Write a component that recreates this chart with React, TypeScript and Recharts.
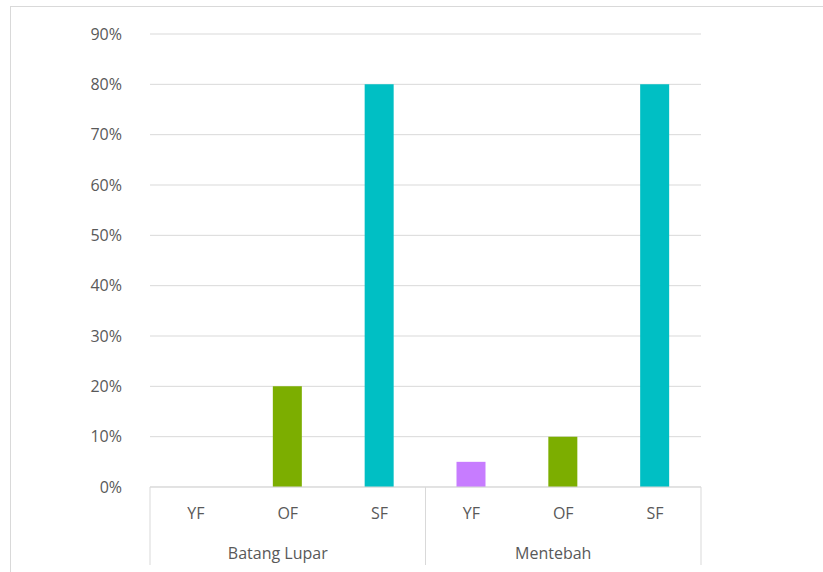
import { BarChart, Bar, XAxis, YAxis, CartesianGrid, Cell } from "recharts";

// Two sites, three forest types each
const groups = ["Batang Lupar", "Batang Lupar", "Batang Lupar", "Mentebah", "Mentebah", "Mentebah"];
const categories = ["YF", "OF", "SF", "YF", "OF", "SF"];
const shares = [0, 0.2, 0.8, 0.05, 0.1, 0.8];
const yTicks = [0, 0.1, 0.2, 0.3, 0.4, 0.5, 0.6, 0.7, 0.8, 0.9];

const COLORS: Record<string, string> = {
  YF: "#C77CFF",
  OF: "#7CAE00",
  SF: "#00BFC4",
};

const FONT = "'Open Sans', sans-serif";
const TEXT = "#595959";
const RULE = "#d9d9d9";
const W = 823;
const H = 572;
const MARGIN = { top: 34, right: 122, bottom: 7, left: 0 };
const Y_AXIS_W = 150;
const X_AXIS_H = 78;

const data = categories.map((c, i) => ({
  key: `${groups[i]}|${c}`,
  cat: c,
  group: groups[i],
  share: shares[i],
}));

function pct(v: number): string {
  return `${Math.round(v * 100)}%`;
}

function MultiLevelTick(props: any) {
  const { x, y, payload, index } = props;
  const i: number = typeof index === "number" ? index : payload?.index ?? 0;
  const half: number =
    payload?.offset || (W - MARGIN.right - Y_AXIS_W) / categories.length / 2;
  const row = data[i];
  if (!row) return null;
  const isFirstInGroup = i === 0 || data[i - 1].group !== row.group;
  const isLast = i === data.length - 1;
  // middle slot of the group gets the group label
  const members = data.filter((d) => d.group === row.group);
  const mid = data.indexOf(members[0]) + (members.length - 1) / 2;
  const showGroup = Math.abs(i - mid) < 0.01;

  return (
    <g>
      <text
        x={x}
        y={y + 26}
        textAnchor="middle"
        dominantBaseline="central"
        fill={TEXT}
        fontSize={16}
        fontFamily={FONT}
      >
        {row.cat}
      </text>
      {showGroup && (
        <text
          x={x - 10}
          y={y + 66}
          textAnchor="middle"
          dominantBaseline="central"
          fill={TEXT}
          fontSize={16}
          fontFamily={FONT}
        >
          {row.group}
        </text>
      )}
      {isFirstInGroup && (
        <line x1={x - half} x2={x - half} y1={y} y2={y + X_AXIS_H} stroke={RULE} />
      )}
      {isLast && (
        <line x1={x + half} x2={x + half} y1={y} y2={y + X_AXIS_H} stroke={RULE} />
      )}
    </g>
  );
}

export default function App() {
  return (
    <div style={{ position: "relative", width: W, height: H, overflow: "hidden", background: "#fff" }}>
      <style>{"body{margin:0;overflow:hidden;}"}</style>
      {/* chart area border */}
      <div
        style={{
          position: "absolute",
          left: 10,
          top: 6,
          width: W + 20,
          height: H + 20,
          border: `1px solid ${RULE}`,
          boxSizing: "border-box",
        }}
      />
      <div style={{ position: "absolute", left: 0, top: 0 }}>
        <BarChart width={W} height={H} data={data} margin={MARGIN} barSize={29}>
          <CartesianGrid horizontal vertical={false} stroke={RULE} strokeWidth={1} />
          <XAxis
            dataKey="key"
            interval={0}
            height={X_AXIS_H}
            tick={<MultiLevelTick />}
            tickLine={false}
            tickSize={0}
            tickMargin={0}
            axisLine={{ stroke: RULE }}
          />
          <YAxis
            domain={[0, 0.9]}
            ticks={yTicks}
            tickFormatter={pct}
            width={Y_AXIS_W}
            axisLine={false}
            tickLine={false}
            tickSize={0}
            tickMargin={28}
            tick={{ fill: TEXT, fontSize: 16, fontFamily: FONT }}
          />
          <Bar dataKey="share" isAnimationActive={false}>
            {data.map((d) => (
              <Cell key={d.key} fill={COLORS[d.cat]} />
            ))}
          </Bar>
        </BarChart>
      </div>
    </div>
  );
}
